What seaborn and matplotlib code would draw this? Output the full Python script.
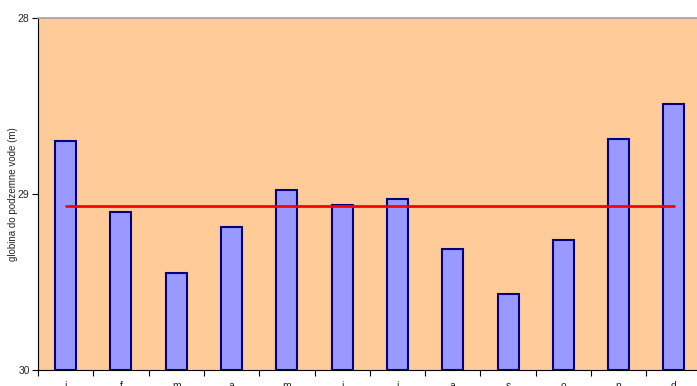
import numpy as np
import pandas as pd
import matplotlib
matplotlib.use("Agg")
import matplotlib.pyplot as plt
import seaborn as sns

# Monthly groundwater depth (m below surface)
months = ["j", "f", "m", "a", "m", "j", "j", "a", "s", "o", "n", "d"]
depth = [28.70, 29.10, 29.45, 29.19, 28.98, 29.06, 29.03, 29.31, 29.57, 29.26, 28.69, 28.49]
y_ticks = [28, 29, 30]
y_label = "globina do podzemne vode (m)"

base = 30.0
df = pd.DataFrame({"pos": [f"{i}" for i in range(len(months))],
                   "rise": [d - base for d in depth]})

sns.set_style("white")
plt.rcParams["font.family"] = ["Liberation Sans", "DejaVu Sans"]

fig = plt.figure(figsize=(6.97, 3.86), dpi=100)
ax = fig.add_axes([38 / 697, 16 / 386, 663.6 / 697, 352 / 386])
ax.set_facecolor("#FFCC99")

sns.barplot(data=df, x="pos", y="rise", ax=ax, color="#9999FF", saturation=1,
            width=0.38, edgecolor="#000080", linewidth=1.5, bottom=base,
            errorbar=None)

mean_depth = float(np.mean(depth))
sns.lineplot(x=[0, len(months) - 1], y=[mean_depth, mean_depth], ax=ax,
             color="#FF0000", linewidth=2)

ax.set_xlim(-0.5, len(months) - 0.5)
ax.set_ylim(30, 28)
ax.set_yticks(y_ticks)
ax.set_yticklabels([str(t) for t in y_ticks], fontsize=7.5)
ax.tick_params(axis="y", direction="out", length=4, width=0.8, pad=2, left=True, color="black")

ax.set_xticks(range(len(months)))
ax.set_xticklabels(months, fontsize=7.5)
ax.set_xticks(np.arange(-0.5, len(months), 1.0), minor=True)
ax.tick_params(axis="x", which="major", length=0, pad=8)
ax.tick_params(axis="x", which="minor", direction="out", length=4, width=0.8, bottom=True, color="black")

ax.set_xlabel("")
ax.set_ylabel(y_label, fontsize=7, labelpad=0)

for side in ["left", "bottom"]:
    ax.spines[side].set_color("black")
    ax.spines[side].set_linewidth(0.8)
ax.spines["top"].set_color("#A0A0A0")
ax.spines["top"].set_linewidth(1.2)
ax.spines["right"].set_visible(False)

fig.savefig("out.png", dpi=100)
